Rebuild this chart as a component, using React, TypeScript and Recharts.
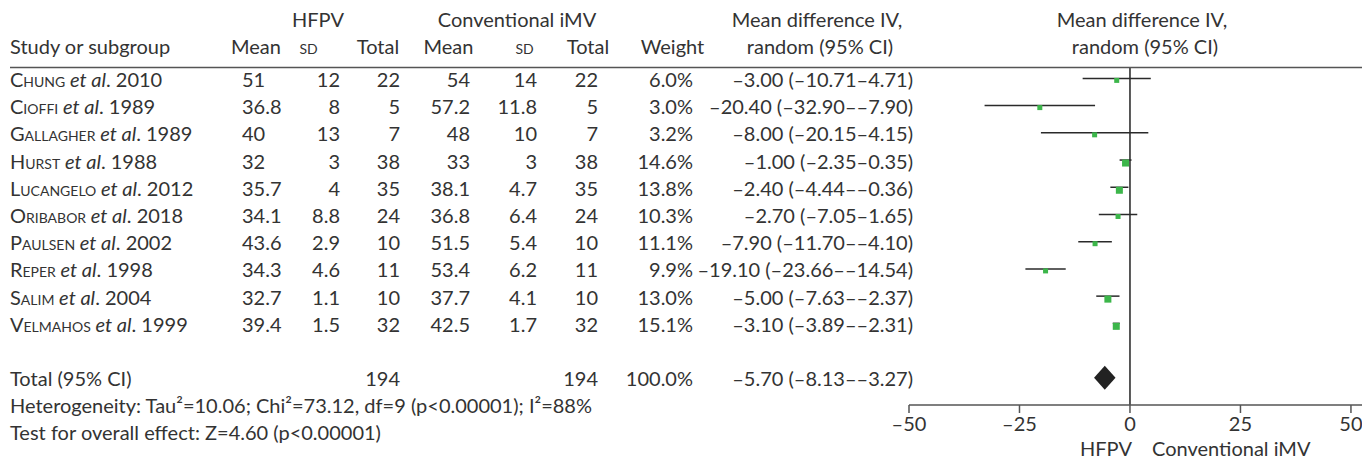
import React from "react";
import {
  ErrorBar,
  ReferenceLine,
  Scatter,
  ScatterChart,
  XAxis,
  YAxis,
} from "recharts";

// --- data ---
const studies = ["Chung", "Cioffi", "Gallagher", "Hurst", "Lucangelo", "Oribabor", "Paulsen", "Reper", "Salim", "Velmahos"];
const years = [2010, 1989, 1989, 1988, 2012, 2018, 2002, 1998, 2004, 1999];

const hfpvMean = [51, 36.8, 40, 32, 35.7, 34.1, 43.6, 34.3, 32.7, 39.4];
const hfpvSd = [12, 8, 13, 3, 4, 8.8, 2.9, 4.6, 1.1, 1.5];
const hfpvTotal = [22, 5, 7, 38, 35, 24, 10, 11, 10, 32];

const convMean = [54, 57.2, 48, 33, 38.1, 36.8, 51.5, 53.4, 37.7, 42.5];
const convSd = [14, 11.8, 10, 3, 4.7, 6.4, 5.4, 6.2, 4.1, 1.7];
const convTotal = [22, 5, 7, 38, 35, 24, 10, 11, 10, 32];

const weights = [6.0, 3.0, 3.2, 14.6, 13.8, 10.3, 11.1, 9.9, 13.0, 15.1];
const md = [-3.0, -20.4, -8.0, -1.0, -2.4, -2.7, -7.9, -19.1, -5.0, -3.1];
const ciLow = [-10.71, -32.9, -20.15, -2.35, -4.44, -7.05, -11.7, -23.66, -7.63, -3.89];
const ciHigh = [4.71, -7.9, 4.15, 0.35, -0.36, 1.65, -4.1, -14.54, -2.37, -2.31];

const totalHfpv = 194;
const totalConv = 194;
const totalWeight = 100.0;
const totalMd = -5.7;
const totalLow = -8.13;
const totalHigh = -3.27;

const xTicks = [-50, -25, 0, 25, 50];

const TOTAL_ROW = 11;
const rowTicks = [...studies.map((_, i) => i), TOTAL_ROW];

const studyPoints = studies.map((_, i) => ({
  x: md[i],
  y: i,
  err: [md[i] - ciLow[i], ciHigh[i] - md[i]],
  w: weights[i],
}));

const diamondPoints = [
  { x: totalLow, y: TOTAL_ROW },
  { x: totalMd, y: TOTAL_ROW },
  { x: totalHigh, y: TOTAL_ROW },
];

const TEXT = "#333";
const FONT = 20;

const dash = (v: number, digits: number) =>
  (v < 0 ? "\u2013" : "") + Math.abs(v).toFixed(digits);

const ciText = (m: number, lo: number, hi: number) =>
  `${dash(m, 2)} (${dash(lo, 2)}\u2013${dash(hi, 2)})`;

// column anchors (px)
const COL = {
  study: 10,
  hMean: 242,
  hSd: 340,
  hTot: 400,
  cMean: 470,
  cSd: 537,
  cTot: 598,
  weight: 693,
  ci: 913,
};

function RowTick(props: any) {
  const { y, payload } = props;
  const i = payload.value as number;
  const by = y + 8.5;
  const t = { fill: TEXT, fontSize: FONT };
  if (i === TOTAL_ROW) {
    return (
      <g>
        <text x={COL.study} y={by} {...t}>Total (95% CI)</text>
        <text x={COL.hTot} y={by} textAnchor="end" {...t}>{totalHfpv}</text>
        <text x={COL.cTot} y={by} textAnchor="end" {...t}>{totalConv}</text>
        <text x={COL.weight} y={by} textAnchor="end" {...t}>{totalWeight.toFixed(1)}%</text>
        <text x={COL.ci} y={by} textAnchor="end" {...t}>{ciText(totalMd, totalLow, totalHigh)}</text>
      </g>
    );
  }
  return (
    <g>
      <text x={COL.study} y={by} {...t}>
        <tspan style={{ fontVariant: "small-caps" }}>{studies[i]}</tspan>
        <tspan fontStyle="italic"> et al</tspan>
        <tspan>. {years[i]}</tspan>
      </text>
      <text x={COL.hMean} y={by} {...t}>{hfpvMean[i]}</text>
      <text x={COL.hSd} y={by} textAnchor="end" {...t}>{hfpvSd[i]}</text>
      <text x={COL.hTot} y={by} textAnchor="end" {...t}>{hfpvTotal[i]}</text>
      <text x={COL.cMean} y={by} textAnchor="end" {...t}>{convMean[i]}</text>
      <text x={COL.cSd} y={by} textAnchor="end" {...t}>{convSd[i]}</text>
      <text x={COL.cTot} y={by} textAnchor="end" {...t}>{convTotal[i]}</text>
      <text x={COL.weight} y={by} textAnchor="end" {...t}>{weights[i].toFixed(1)}%</text>
      <text x={COL.ci} y={by} textAnchor="end" {...t}>{ciText(md[i], ciLow[i], ciHigh[i])}</text>
    </g>
  );
}

// green weight square, hanging just under the CI line
function StudySquare(props: any) {
  const { cx, cy, payload } = props;
  const s = payload.w >= 12 ? 7 : 5;
  return <rect x={cx - s / 2} y={cy - 0.5} width={s} height={s} fill="#3cb64a" />;
}

function Diamond(props: any) {
  const pts = props.points || [];
  if (pts.length < 3) return <g />;
  const [a, b, c] = pts;
  return (
    <polygon
      points={`${a.x},${a.y} ${b.x},${b.y - 12} ${c.x},${c.y} ${b.x},${b.y + 12}`}
      fill="#222"
    />
  );
}

const Nothing = () => <g />;

export default function App() {
  const t = { fill: TEXT, fontSize: FONT };
  return (
    <div
      style={{
        position: "absolute",
        left: 0,
        top: 0,
        width: 1362,
        height: 460,
        background: "#fff",
        fontFamily: "Lato, 'Noto Sans', sans-serif",
        overflow: "hidden",
      }}
    >
      <ScatterChart
        width={1362}
        height={460}
        margin={{ top: 67.5, right: 0, bottom: 25, left: 899 }}
      >
        <XAxis
          type="number"
          dataKey="x"
          domain={[-50, 52.5]}
          ticks={xTicks}
          interval={0}
          allowDataOverflow
          height={30}
          tickSize={8}
          tickMargin={4}
          axisLine={{ stroke: "#555", strokeWidth: 1.5 }}
          tickLine={{ stroke: "#555", strokeWidth: 1.5 }}
          tick={{ fill: TEXT, fontSize: FONT }}
          tickFormatter={(v: number) => dash(v, 0)}
        />
        <YAxis
          type="number"
          dataKey="y"
          domain={[-0.4, 12]}
          reversed
          allowDataOverflow
          ticks={rowTicks}
          interval={0}
          width={10}
          axisLine={false}
          tickLine={false}
          tick={(p: any) => <RowTick {...p} />}
        />
        <ReferenceLine x={0} stroke="#222" strokeWidth={1.5} />
        <Scatter data={studyPoints} shape={StudySquare} isAnimationActive={false}>
          <ErrorBar dataKey="err" direction="x" width={0} stroke="#2a2a2a" strokeWidth={1.5} />
        </Scatter>
        <Scatter
          data={diamondPoints}
          shape={Nothing}
          line={Diamond}
          lineType="joint"
          isAnimationActive={false}
        />
      </ScatterChart>

      <svg
        width={1362}
        height={460}
        style={{ position: "absolute", left: 0, top: 0, pointerEvents: "none" }}
      >
        <text x={318} y={27} textAnchor="middle" {...t}>HFPV</text>
        <text x={517} y={27} textAnchor="middle" {...t}>Conventional iMV</text>
        <text x={817} y={27} textAnchor="middle" {...t}>Mean difference IV,</text>
        <text x={1142} y={27} textAnchor="middle" {...t}>Mean difference IV,</text>

        <text x={10} y={54} {...t}>Study or subgroup</text>
        <text x={256} y={54} textAnchor="middle" {...t}>Mean</text>
        <text x={308.5} y={54} textAnchor="middle" {...t} style={{ fontVariant: "small-caps" }}>sd</text>
        <text x={378} y={54} textAnchor="middle" {...t}>Total</text>
        <text x={448.5} y={54} textAnchor="middle" {...t}>Mean</text>
        <text x={524.5} y={54} textAnchor="middle" {...t} style={{ fontVariant: "small-caps" }}>sd</text>
        <text x={588} y={54} textAnchor="middle" {...t}>Total</text>
        <text x={672.5} y={54} textAnchor="middle" {...t}>Weight</text>
        <text x={820} y={54} textAnchor="middle" {...t}>random (95% CI)</text>
        <text x={1145} y={54} textAnchor="middle" {...t}>random (95% CI)</text>

        <line x1={10} x2={1362} y1={67.5} y2={67.5} stroke="#555" strokeWidth={1.5} />

        <text x={10} y={413} {...t}>
          Heterogeneity: Tau²=10.06; Chi²=73.12, df=9 (p&lt;0.00001); I²=88%
        </text>
        <text x={10} y={440} {...t}>Test for overall effect: Z=4.60 (p&lt;0.00001)</text>

        <text x={1132} y={456} textAnchor="end" {...t}>HFPV</text>
        <text x={1152} y={456} {...t}>Conventional iMV</text>
      </svg>
    </div>
  );
}
